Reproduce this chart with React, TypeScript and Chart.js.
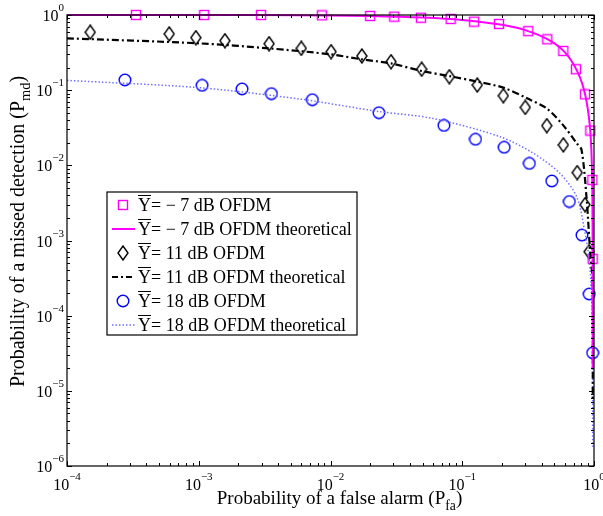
import React, { useEffect, useRef } from 'react';
import { Chart, registerables } from 'chart.js';

Chart.register(...registerables);

// ---------- data ----------
const xTickValues = [1e-4, 1e-3, 1e-2, 1e-1, 1];
const xTickExponents = ['−4', '−3', '−2', '−1', '0'];
const yTickValues = [1, 1e-1, 1e-2, 1e-3, 1e-4, 1e-5, 1e-6];
const yTickExponents = ['0', '−1', '−2', '−3', '−4', '−5', '−6'];

const legendLabels = [
  '= − 7 dB OFDM',
  '= − 7 dB OFDM theoretical',
  '= 11 dB OFDM',
  '= 11 dB OFDM theoretical',
  '= 18 dB OFDM',
  '= 18 dB OFDM theoretical',
];

// −7 dB OFDM (squares)
const sqX = [3.34e-4, 1.1e-3, 2.97e-3, 8.6e-3, 0.02, 0.0305, 0.0486, 0.0817, 0.123, 0.19, 0.317, 0.442, 0.585, 0.73, 0.855, 0.938, 0.972, 0.977];
const sqY = [1.0, 1.0, 1.0, 0.99, 0.97, 0.95, 0.92, 0.885, 0.815, 0.76, 0.61, 0.475, 0.332, 0.19, 0.088, 0.029, 0.0064, 5.7e-4];
// −7 dB theoretical
const thAX = [1e-4, 3e-3, 0.01, 0.02, 0.05, 0.1, 0.2, 0.3, 0.45, 0.6, 0.75, 0.86, 0.935, 0.968, 0.976, 0.978];
const thAY = [1.0, 0.998, 0.985, 0.97, 0.925, 0.86, 0.74, 0.63, 0.47, 0.32, 0.175, 0.085, 0.03, 0.007, 6e-4, 2e-5];

// 11 dB OFDM (diamonds)
const dmX = [1.5e-4, 5.97e-4, 9.5e-4, 1.58e-3, 3.42e-3, 6.0e-3, 0.0101, 0.0173, 0.0288, 0.0492, 0.0798, 0.13, 0.205, 0.301, 0.438, 0.585, 0.746, 0.855, 0.918];
const dmY = [0.59, 0.56, 0.5, 0.455, 0.415, 0.36, 0.325, 0.285, 0.239, 0.19, 0.151, 0.117, 0.0844, 0.059, 0.0337, 0.0187, 0.008, 0.003, 7.1e-4];
// 11 dB theoretical
const thBX = [1e-4, 1e-3, 3.4e-3, 0.01, 0.0173, 0.0288, 0.0492, 0.0798, 0.13, 0.205, 0.31, 0.438, 0.585, 0.74, 0.805, 0.88, 0.933, 0.977, 0.978];
const thBY = [0.49, 0.42, 0.36, 0.3, 0.257, 0.227, 0.18, 0.154, 0.13, 0.108, 0.078, 0.057, 0.034, 0.0196, 0.016, 0.0035, 7.4e-4, 2.7e-4, 7.6e-6];

// 18 dB OFDM (circles)
const ciX = [2.75e-4, 1.06e-3, 2.13e-3, 3.56e-3, 7.28e-3, 0.0233, 0.0726, 0.126, 0.208, 0.323, 0.478, 0.65, 0.81, 0.92, 0.977];
const ciY = [0.137, 0.116, 0.104, 0.0898, 0.0747, 0.0501, 0.034, 0.0222, 0.0174, 0.0106, 0.0062, 0.0033, 1.18e-3, 1.94e-4, 3.2e-5];
// 18 dB theoretical
const thCX = [1e-4, 1e-3, 5.9e-3, 0.0233, 0.06, 0.194, 0.346, 0.552, 0.74, 0.855, 0.92, 0.96, 0.975, 0.977];
const thCY = [0.135, 0.108, 0.076, 0.052, 0.042, 0.024, 0.0145, 0.0078, 0.0038, 0.00126, 5.5e-4, 1.6e-4, 2e-5, 1.8e-6];

// ---------- styles ----------
const MAGENTA = '#ff00ff';
const BLUE = '#0000ff';
const DOTBLUE = '#7070ff';
const SERIF = '"Liberation Serif", "Times New Roman", serif';

function pts(xs: number[], ys: number[]) {
  return xs.map((x, i) => ({ x, y: ys[i] }));
}

function makeMarker(kind: string): HTMLCanvasElement {
  const c = document.createElement('canvas');
  const ctx = c.getContext('2d')!;
  if (kind === 'square') {
    c.width = 12; c.height = 12;
    ctx.strokeStyle = MAGENTA; ctx.lineWidth = 1.4;
    ctx.strokeRect(1.5, 1.5, 9, 9);
  } else if (kind === 'diamond') {
    c.width = 12; c.height = 16;
    ctx.strokeStyle = '#000'; ctx.lineWidth = 1.4;
    ctx.beginPath();
    ctx.moveTo(6, 1); ctx.lineTo(11, 8); ctx.lineTo(6, 15); ctx.lineTo(1, 8); ctx.closePath();
    ctx.stroke();
  } else {
    c.width = 14; c.height = 14;
    ctx.strokeStyle = BLUE; ctx.lineWidth = 1.4;
    ctx.beginPath(); ctx.arc(7, 7, 5.8, 0, Math.PI * 2); ctx.stroke();
  }
  return c;
}

function drawPow(ctx: CanvasRenderingContext2D, exp: string, x: number, y: number, align: 'center' | 'right') {
  ctx.font = `16px ${SERIF}`;
  const w1 = ctx.measureText('10').width;
  ctx.font = `11px ${SERIF}`;
  const w2 = ctx.measureText(exp).width;
  const total = w1 + w2;
  const sx = align === 'center' ? x - total / 2 : x - total;
  ctx.textAlign = 'left';
  ctx.textBaseline = 'alphabetic';
  ctx.font = `16px ${SERIF}`;
  ctx.fillText('10', sx, y);
  ctx.font = `11px ${SERIF}`;
  ctx.fillText(exp, sx + w1, y - 10);
}

function drawSub(ctx: CanvasRenderingContext2D, main: string, sub: string, x: number, y: number, size: number) {
  // centered at x, baseline y
  ctx.font = `${size}px ${SERIF}`;
  const w1 = ctx.measureText(main).width;
  ctx.font = `${size * 0.72}px ${SERIF}`;
  const w2 = ctx.measureText(sub).width;
  ctx.font = `${size}px ${SERIF}`;
  const w3 = ctx.measureText(')').width;
  const total = w1 + w2 + w3;
  const sx = x - total / 2;
  ctx.textAlign = 'left';
  ctx.textBaseline = 'alphabetic';
  ctx.fillText(main, sx, y);
  ctx.font = `${size * 0.72}px ${SERIF}`;
  ctx.fillText(sub, sx + w1, y + size * 0.3);
  ctx.font = `${size}px ${SERIF}`;
  ctx.fillText(')', sx + w1 + w2, y);
}

export default function App() {
  const ref = useRef<HTMLCanvasElement | null>(null);

  useEffect(() => {
    const canvas = ref.current!;
    const sq = makeMarker('square');
    const dm = makeMarker('diamond');
    const ci = makeMarker('circle');

    const overlay = {
      id: 'overlay',
      afterDatasetsDraw(chart: any) {
        const ctx: CanvasRenderingContext2D = chart.ctx;
        const { left, right, top, bottom } = chart.chartArea;
        const xs = chart.scales.x;
        const ys = chart.scales.y;
        ctx.save();
        // box
        ctx.strokeStyle = '#000';
        ctx.lineWidth = 1.2;
        ctx.strokeRect(left, top, right - left, bottom - top);
        // ticks
        ctx.lineWidth = 1;
        ctx.beginPath();
        for (let d = -4; d <= 0; d++) {
          for (let m = 1; m <= 9; m++) {
            const v = m * Math.pow(10, d);
            if (v > 1.0000001) continue;
            const px = Math.round(xs.getPixelForValue(v)) + 0.5;
            const len = m === 1 ? 5 : 3;
            ctx.moveTo(px, bottom); ctx.lineTo(px, bottom - len);
            ctx.moveTo(px, top); ctx.lineTo(px, top + len);
          }
        }
        for (let d = -6; d <= 0; d++) {
          for (let m = 1; m <= 9; m++) {
            const v = m * Math.pow(10, d);
            if (v > 1.0000001) continue;
            const py = Math.round(ys.getPixelForValue(v)) + 0.5;
            const len = m === 1 ? 5 : 3;
            ctx.moveTo(left, py); ctx.lineTo(left + len, py);
            ctx.moveTo(right, py); ctx.lineTo(right - len, py);
          }
        }
        ctx.stroke();
        // tick labels
        ctx.fillStyle = '#000';
        xTickValues.forEach((v, i) => {
          drawPow(ctx, xTickExponents[i], xs.getPixelForValue(v), bottom + 24, 'center');
        });
        yTickValues.forEach((v, i) => {
          drawPow(ctx, yTickExponents[i], left - 3, ys.getPixelForValue(v) + 6, 'right');
        });
        ctx.restore();
      },
      afterDraw(chart: any) {
        const ctx: CanvasRenderingContext2D = chart.ctx;
        const { left, right, top, bottom } = chart.chartArea;
        ctx.save();
        ctx.fillStyle = '#000';
        // axis titles
        drawSub(ctx, 'Probability of a false alarm (P', 'fa', (left + right) / 2 + 9, bottom + 38, 19);
        ctx.save();
        ctx.translate(24, (top + bottom) / 2 - 9);
        ctx.rotate(-Math.PI / 2);
        drawSub(ctx, 'Probability of a missed detection (P', 'md', 0, 0, 20);
        ctx.restore();
        // legend
        const lx = left + 40, ly = top + 177, lw = 250, lh = 143;
        ctx.fillStyle = '#fff';
        ctx.fillRect(lx, ly, lw, lh);
        ctx.strokeStyle = '#000';
        ctx.lineWidth = 1.2;
        ctx.strokeRect(lx, ly, lw, lh);
        const rowH = 24;
        const symX = lx + 16;
        const textX = lx + 31;
        for (let i = 0; i < 6; i++) {
          const cy = ly + 13 + i * rowH;
          if (i === 0) ctx.drawImage(sq, symX - 6, cy - 6);
          if (i === 2) ctx.drawImage(dm, symX - 6, cy - 8);
          if (i === 4) ctx.drawImage(ci, symX - 7, cy - 7);
          if (i % 2 === 1) {
            ctx.beginPath();
            ctx.moveTo(lx + 5, cy); ctx.lineTo(lx + 28, cy);
            if (i === 1) { ctx.strokeStyle = MAGENTA; ctx.lineWidth = 2; ctx.setLineDash([]); }
            if (i === 3) { ctx.strokeStyle = '#000'; ctx.lineWidth = 2; ctx.setLineDash([6, 3, 2, 3]); }
            if (i === 5) { ctx.strokeStyle = DOTBLUE; ctx.lineWidth = 1.5; ctx.setLineDash([1.5, 2]); }
            ctx.stroke();
            ctx.setLineDash([]);
          }
          ctx.fillStyle = '#000';
          ctx.font = `18px ${SERIF}`;
          ctx.textAlign = 'left';
          ctx.textBaseline = 'alphabetic';
          const base = cy + 6;
          ctx.fillText('Υ', textX, base);
          const uw = ctx.measureText('Υ').width;
          ctx.fillText(legendLabels[i], textX + uw, base);
          ctx.strokeStyle = '#000';
          ctx.lineWidth = 1;
          ctx.beginPath();
          ctx.moveTo(textX, base - 15.5); ctx.lineTo(textX + uw, base - 15.5);
          ctx.stroke();
        }
        ctx.restore();
      },
    };

    const chart = new Chart(canvas, {
      type: 'scatter',
      data: {
        datasets: [
          { label: 'th -7', data: pts(thAX, thAY), showLine: true, borderColor: MAGENTA, borderWidth: 2, pointRadius: 0, tension: 0.3, clip: false } as any,
          { label: 'th 11', data: pts(thBX, thBY), showLine: true, borderColor: '#000', borderWidth: 2.2, borderDash: [7, 3, 2, 3], pointRadius: 0, tension: 0.3, clip: false } as any,
          { label: 'th 18', data: pts(thCX, thCY), showLine: true, borderColor: DOTBLUE, borderWidth: 1.5, borderDash: [1.5, 2], pointRadius: 0, tension: 0.3, clip: false } as any,
          { label: '-7', data: pts(sqX, sqY), showLine: false, pointStyle: sq, clip: false } as any,
          { label: '11', data: pts(dmX, dmY), showLine: false, pointStyle: dm, clip: false } as any,
          { label: '18', data: pts(ciX, ciY), showLine: false, pointStyle: ci, clip: false } as any,
        ],
      },
      options: {
        animation: false,
        responsive: false,
        layout: { padding: { left: 67, top: 15, right: 9, bottom: 50 } },
        plugins: { legend: { display: false }, tooltip: { enabled: false } },
        scales: {
          x: { type: 'logarithmic', min: 1e-4, max: 1, display: false },
          y: { type: 'logarithmic', min: 1e-6, max: 1, display: false },
        },
      },
      plugins: [overlay],
    });
    return () => chart.destroy();
  }, []);

  return (
    <div style={{ position: 'absolute', left: 0, top: 0, width: 603, height: 516, background: '#fff' }}>
      <canvas ref={ref} width={603} height={516} style={{ display: 'block' }} />
    </div>
  );
}
